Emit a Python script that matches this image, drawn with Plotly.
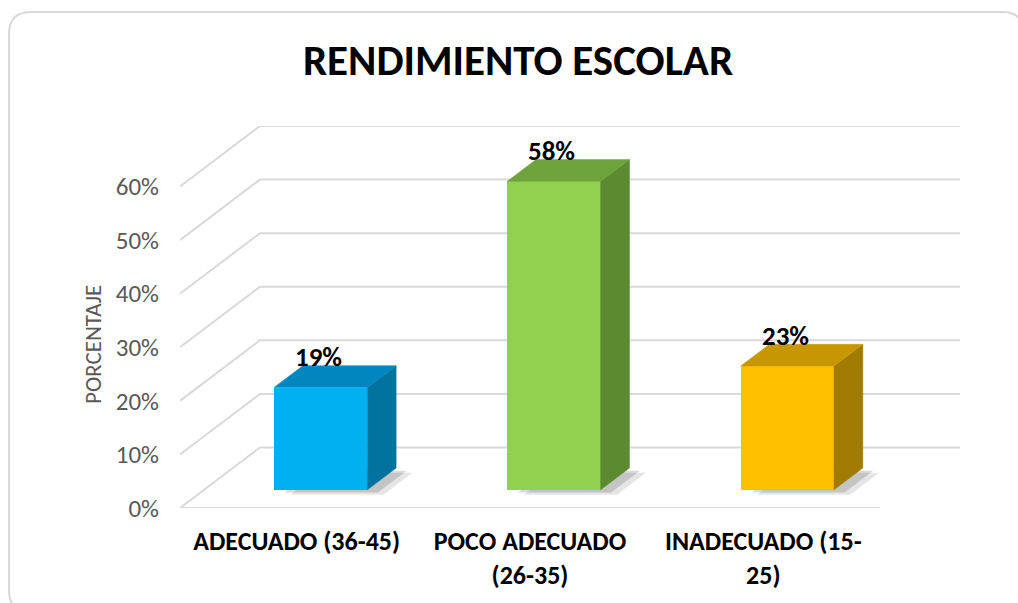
import plotly.graph_objects as go

# ---------------- data ----------------
categories = ["ADECUADO (36-45)", "POCO ADECUADO (26-35)", "INADECUADO (15-25)"]
tick_text = ["ADECUADO (36-45)", "POCO ADECUADO<br>(26-35)", "INADECUADO (15-<br>25)"]
values = [19.1, 57.6, 23.1]
y_ticks = [0, 10, 20, 30, 40, 50, 60]

front_colors = ["#00B0F0", "#92D050", "#FFC000"]
top_colors = ["#0087BF", "#6EA23B", "#C89700"]
side_colors = ["#00729E", "#5B8A31", "#A17A00"]

# ---------------- oblique (pseudo 3D) projection ----------------
DX = 0.3429   # depth shift in category units
DY = 11.3     # depth shift in percent units
D0, D1 = 0.30, 0.66   # bar depth extent (fraction of depth)
BW = 0.4      # bar width in category units
n = len(values)

W, H = 1018, 603
L, R, T, B = 180, 58, 126, 95
PW, PH = W - L - R, H - T - B

FONT = "Carlito, Lato, 'Open Sans', sans-serif"
GRID = "#D9D9D9"
TXT = "#595959"


def pxx(x):
    return (x - L) / PW


def pxy(y):
    return (H - B - y) / PH


fig = go.Figure()
shapes = []

# gridlines (left side wall diagonals + back wall)
for v in y_ticks:
    shapes.append(dict(
        type="path", xref="x", yref="y", layer="below",
        path=f"M 0,{v} L {DX},{v + DY} L {n + DX},{v + DY}",
        line=dict(color=GRID, width=2)))
# floor front edge
shapes.append(dict(type="path", xref="x", yref="y", layer="below",
                   path=f"M 0,0 L {n},0", line=dict(color=GRID, width=2)))

xc = [i + 0.5 + D0 * DX for i in range(n)]
base = D0 * DY
dd = D1 - D0

# soft floor shadows
for i in range(n):
    xl, xr = xc[i] - BW / 2, xc[i] + BW / 2
    for k, (sx, sy, a) in enumerate([(0.07, -0.9, 0.10), (0.045, -0.5, 0.14)]):
        pts = [(xl + sx, base + sy), (xr + sx, base + sy),
               (xr + dd * DX + sx, base + dd * DY + sy),
               (xl + dd * DX + sx, base + dd * DY + sy)]
        path = "M " + " L ".join(f"{px},{py}" for px, py in pts) + " Z"
        shapes.append(dict(type="path", xref="x", yref="y", layer="below",
                           path=path, fillcolor=f"rgba(0,0,0,{a})",
                           line=dict(width=0)))

# front faces
fig.add_trace(go.Bar(
    x=xc, y=values, base=[base] * n, width=BW,
    marker=dict(color=front_colors, line=dict(width=0)),
    showlegend=False, hoverinfo="skip"))

# side and top faces
for i, v in enumerate(values):
    xl, xr = xc[i] - BW / 2, xc[i] + BW / 2
    sx = [xr, xr + dd * DX, xr + dd * DX, xr, xr]
    sy = [base, base + dd * DY, base + dd * DY + v, base + v, base]
    fig.add_trace(go.Scatter(x=sx, y=sy, fill="toself", mode="lines",
                             fillcolor=side_colors[i],
                             line=dict(color=side_colors[i], width=0.5),
                             showlegend=False, hoverinfo="skip"))
    tx = [xl, xr, xr + dd * DX, xl + dd * DX, xl]
    ty = [base + v, base + v, base + v + dd * DY, base + v + dd * DY, base + v]
    fig.add_trace(go.Scatter(x=tx, y=ty, fill="toself", mode="lines",
                             fillcolor=top_colors[i],
                             line=dict(color=top_colors[i], width=0.5),
                             showlegend=False, hoverinfo="skip"))

annotations = []
# data labels
for i, v in enumerate(values):
    annotations.append(dict(
        x=xc[i] - 0.01, y=base + v + dd * DY, xref="x", yref="y",
        text=f"<b>{round(v)}%</b>", showarrow=False,
        yanchor="middle", xanchor="center", yshift=9,
        font=dict(family=FONT, size=27, color="black")))

# y axis title
annotations.append(dict(
    x=pxx(93), y=pxy(345), xref="paper", yref="paper",
    text="PORCENTAJE", textangle=-90, showarrow=False,
    xanchor="center", yanchor="middle",
    font=dict(family=FONT, size=23, color=TXT)))

# outer rounded border
x0, x1, y0, y1, r = 9, 1024, 12, 612, 22
bp = (f"M {pxx(x0 + r)},{pxy(y0)} L {pxx(x1 - r)},{pxy(y0)} "
      f"Q {pxx(x1)},{pxy(y0)} {pxx(x1)},{pxy(y0 + r)} "
      f"L {pxx(x1)},{pxy(y1 - r)} Q {pxx(x1)},{pxy(y1)} {pxx(x1 - r)},{pxy(y1)} "
      f"L {pxx(x0 + r)},{pxy(y1)} Q {pxx(x0)},{pxy(y1)} {pxx(x0)},{pxy(y1 - r)} "
      f"L {pxx(x0)},{pxy(y0 + r)} Q {pxx(x0)},{pxy(y0)} {pxx(x0 + r)},{pxy(y0)} Z")
shapes.append(dict(type="path", xref="paper", yref="paper", layer="below",
                   path=bp, line=dict(color=GRID, width=2)))

fig.update_layout(
    width=W, height=H,
    margin=dict(l=L, r=R, t=T, b=B),
    paper_bgcolor="white", plot_bgcolor="white",
    title=dict(text="<b>RENDIMIENTO ESCOLAR</b>", x=518 / W, xref="container",
               y=1 - 60 / H, yref="container", xanchor="center", yanchor="middle",
               font=dict(family=FONT, size=43, color="black")),
    xaxis=dict(range=[0, n + DX], tickvals=[i + 0.5 for i in range(n)],
               ticktext=[f"<b>{t}</b>" for t in tick_text],
               showgrid=False, zeroline=False, showline=False, ticks="",
               ticklabelstandoff=15, automargin=False,
               tickfont=dict(family=FONT, size=26, color="black"),
               fixedrange=True),
    yaxis=dict(range=[0, 60 + DY], tickvals=y_ticks,
               ticktext=[f"{t}%" for t in y_ticks],
               showgrid=False, zeroline=False, showline=False, ticks="",
               ticklabelstandoff=20, automargin=False,
               tickfont=dict(family=FONT, size=25, color=TXT),
               fixedrange=True),
    shapes=shapes, annotations=annotations,
    bargap=0, showlegend=False,
)

fig.write_html("out.html", config={"displayModeBar": False})
